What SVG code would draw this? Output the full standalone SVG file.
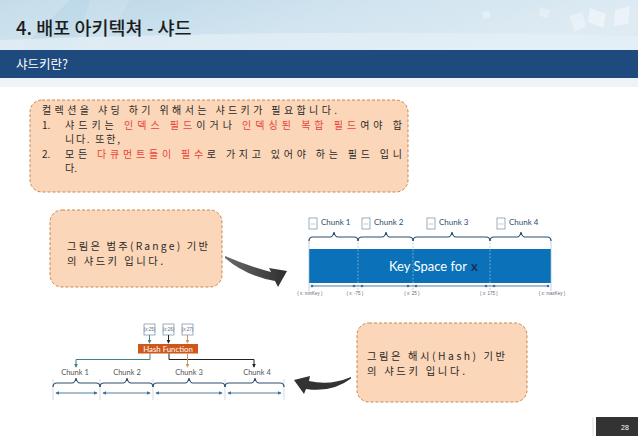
<svg xmlns="http://www.w3.org/2000/svg" width="638" height="442" viewBox="0 0 638 442">
<defs>
<linearGradient id="hdr" x1="0" y1="0" x2="1" y2="0.3">
<stop offset="0" stop-color="#b8d5e6"/>
<stop offset="0.5" stop-color="#cfe3ef"/>
<stop offset="1" stop-color="#deebf3"/>
</linearGradient>
<linearGradient id="arw" x1="0" y1="0" x2="1" y2="0">
<stop offset="0" stop-color="#6a6a6a"/>
<stop offset="1" stop-color="#2e2e2e"/>
</linearGradient>
<marker id="ah" viewBox="0 0 6 6" refX="5" refY="3" markerWidth="4" markerHeight="4" orient="auto-start-reverse">
<path d="M0,0 L6,3 L0,6 Z" fill="#3d6f96"/>
</marker>
<marker id="ahT" viewBox="0 0 6 6" refX="5" refY="3" markerWidth="4" markerHeight="4" orient="auto">
<path d="M0,0 L6,3 L0,6 Z" fill="#3f8285"/>
</marker>
<marker id="ahK" viewBox="0 0 6 6" refX="5" refY="3" markerWidth="4" markerHeight="4" orient="auto">
<path d="M0,0 L6,3 L0,6 Z" fill="#222"/>
</marker>
<marker id="ahN" viewBox="0 0 6 6" refX="5" refY="3" markerWidth="4" markerHeight="4" orient="auto">
<path d="M0,0 L6,3 L0,6 Z" fill="#c39a5f"/>
</marker>
</defs>
<style>
.kr{font-family:"Noto Sans CJK KR","Noto Sans",sans-serif;}
.body{font-size:10.3px;fill:#2a2a2a;}
.b1{font-size:10px;}
.red{fill:#e8443a;}
.note{fill:#fbd6b8;stroke:#c9874f;stroke-width:1;stroke-dasharray:3,2;}
.lat{font-family:Lato,"Liberation Sans",sans-serif;}
.brace{fill:none;stroke:#2c4f6e;stroke-width:1.2;}
.tiny{font-family:"Liberation Sans",sans-serif;font-size:4.5px;fill:#667;}
.icon{fill:#fff;stroke:#6b8fa8;stroke-width:0.7;}
.chunkR{font-size:8px;fill:#2c4f6e;}
.chunkH{font-size:7.5px;fill:#555;}
</style>
<rect width="638" height="442" fill="#ffffff"/>
<g id="header">
<rect x="0" y="0" width="638" height="50" fill="url(#hdr)"/>
<path d="M0,0 L70,0 L20,50 L0,50 Z" fill="#ffffff" opacity="0.18"/>
<path d="M90,0 L130,0 L100,50 L75,50 Z" fill="#ffffff" opacity="0.12"/>
<path d="M0,40 Q300,28 638,36 L638,50 L0,50 Z" fill="#e6f0f6" opacity="0.7"/>
<path d="M590,8 L606,14 L603,28 L588,22 Z" fill="#ffffff" opacity="0.45"/>
<path d="M615,10 L630,6 L628,24 L614,26 Z" fill="#ffffff" opacity="0.4"/>
<path d="M570,16 L582,12 L586,26 L574,32 Z" fill="#ffffff" opacity="0.35"/>
<path d="M540,8 L550,10 L548,18 L539,16 Z" fill="#ffffff" opacity="0.3"/>
<path d="M482,12 L490,11 L490,18 L483,19 Z" fill="#ffffff" opacity="0.3"/>
<text x="16" y="35" class="kr" font-size="18.5" font-weight="500" fill="#1c1c1c">4. 배포 아키텍쳐 - 샤드</text>
<rect x="0" y="50" width="638" height="28" fill="#1f4a7e"/>
<rect x="0" y="78" width="638" height="9" fill="#eef3f8"/>
<text x="16" y="69" class="kr" font-size="12.5" fill="#ffffff">샤드키란?</text>
</g>
<g id="box1">
<rect x="30" y="100" width="378" height="92" rx="12" class="note"/>
<text x="42" y="114" class="kr body b1" textLength="295" lengthAdjust="spacing">컬렉션을 샤딩 하기 위해서는 샤드키가 필요합니다.</text>
<text x="42" y="128.5" class="kr body b1">1.</text>
<text x="65" y="128.5" class="kr body b1" textLength="337" lengthAdjust="spacing">샤드키는 <tspan class="red">인덱스 필드</tspan>이거나 <tspan class="red">인덱싱된 복합 필드</tspan>여야 합</text>
<text x="65" y="143" class="kr body b1" textLength="55" lengthAdjust="spacing">니다. 또한,</text>
<text x="42" y="157.5" class="kr body b1">2.</text>
<text x="65" y="157.5" class="kr body b1" textLength="337" lengthAdjust="spacing">모든 <tspan class="red">다큐먼트들이 필수</tspan>로 가지고 있어야 하는 필드 입니</text>
<text x="65" y="172" class="kr body b1">다.</text>
</g>
<g id="box2">
<rect x="50" y="210" width="172" height="77" rx="12" class="note"/>
<text x="67" y="250" class="kr body" textLength="141" lengthAdjust="spacing">그림은 범주(Range) 기반</text>
<text x="67" y="265" class="kr body" textLength="96" lengthAdjust="spacing">의 샤드키 입니다.</text>
</g>
<g id="box3">
<rect x="357" y="323" width="170" height="79" rx="12" class="note"/>
<text x="367" y="360" class="kr body" textLength="138" lengthAdjust="spacing">그림은 해시(Hash) 기반</text>
<text x="367" y="375" class="kr body" textLength="98" lengthAdjust="spacing">의 샤드키 입니다.</text>
</g>
<g id="range-diagram">
<rect x="309" y="249" width="242" height="34" fill="#0b72b9"/>
<g stroke="#9dbbd3" stroke-width="0.7">
<line x1="309" y1="239" x2="309" y2="291"/>
<line x1="551" y1="239" x2="551" y2="291"/>
<line x1="358" y1="239" x2="358" y2="291" stroke-dasharray="2,1.5"/>
<line x1="413" y1="239" x2="413" y2="291" stroke-dasharray="2,1.5"/>
<line x1="490" y1="239" x2="490" y2="291" stroke-dasharray="2,1.5"/>
</g>
<text x="389" y="271" class="lat" font-size="13" fill="#ffffff">Key Space for<tspan dx="4" font-weight="bold" fill="#1d2f5c">x</tspan></text>
<path class="brace" d="M309,241 Q309,237 313,237 L330,237 Q333,237 334,232 Q335,237 338,237 L354,237 Q358,237 358,241"/>
<path class="brace" d="M358,241 Q358,237 362,237 L382,237 Q385,237 386,232 Q387,237 390,237 L409,237 Q413,237 413,241"/>
<path class="brace" d="M413,241 Q413,237 417,237 L448,237 Q451,237 452,232 Q453,237 456,237 L486,237 Q490,237 490,241"/>
<path class="brace" d="M490,241 Q490,237 494,237 L517,237 Q520,237 521,232 Q522,237 525,237 L547,237 Q551,237 551,241"/>
<rect x="309" y="218" width="8" height="11" class="icon"/>
<rect x="362" y="218" width="8" height="11" class="icon"/>
<rect x="427" y="218" width="8" height="11" class="icon"/>
<rect x="497" y="218" width="8" height="11" class="icon"/>
<g stroke="#c9a36a" stroke-width="0.6">
<line x1="310.5" y1="224" x2="315.5" y2="224"/>
<line x1="363.5" y1="224" x2="368.5" y2="224"/>
<line x1="428.5" y1="224" x2="433.5" y2="224"/>
<line x1="498.5" y1="224" x2="503.5" y2="224"/>
</g>
<text x="321" y="225" class="lat chunkR">Chunk 1</text>
<text x="374" y="225" class="lat chunkR">Chunk 2</text>
<text x="439" y="225" class="lat chunkR">Chunk 3</text>
<text x="509" y="225" class="lat chunkR">Chunk 4</text>
<line x1="312" y1="286" x2="548" y2="286" stroke="#3d6f96" stroke-width="0.9"/>
<g fill="#3d6f96">
<circle cx="312" cy="286" r="1.3"/><circle cx="354" cy="286" r="1.3"/>
<circle cx="362" cy="286" r="1.3"/><circle cx="408" cy="286" r="1.3"/>
<circle cx="416" cy="286" r="1.3"/><circle cx="486" cy="286" r="1.3"/>
<circle cx="494" cy="286" r="1.3"/><circle cx="548" cy="286" r="1.3"/>
</g>
<g class="tiny" text-anchor="middle">
<text x="310" y="295">{ x: minKey }</text>
<text x="355" y="295">{ x: -75 }</text>
<text x="412" y="295">{ x: 25 }</text>
<text x="489" y="295">{ x: 175 }</text>
<text x="552" y="295">{ x: maxKey }</text>
</g>
</g>
<g id="hash-diagram">
<rect x="144" y="324" width="11" height="11" class="icon" stroke="#5a8fb5"/>
<rect x="163" y="324" width="11" height="11" class="icon" stroke="#5a8fb5"/>
<rect x="182" y="324" width="11" height="11" class="icon" stroke="#5a8fb5"/>
<g class="tiny" font-size="3.6" text-anchor="middle" fill="#3d6f96">
<text x="149.5" y="331">{x:25}</text>
<text x="168.5" y="331">{x:26}</text>
<text x="187.5" y="331">{x:27}</text>
</g>
<line x1="149.5" y1="335" x2="149.5" y2="343" stroke="#3f8285" stroke-width="1" marker-end="url(#ahT)"/>
<line x1="168.5" y1="335" x2="168.5" y2="343" stroke="#222" stroke-width="1" marker-end="url(#ahK)"/>
<line x1="187.5" y1="335" x2="187.5" y2="343" stroke="#c39a5f" stroke-width="1" marker-end="url(#ahN)"/>
<rect x="138" y="344" width="60" height="9.5" fill="#d0571b"/>
<text x="168" y="351.6" class="lat" font-size="7.8" fill="#ffffff" text-anchor="middle">Hash Function</text>
<polyline points="150,353.5 150,359.5 76,359.5 76,367" fill="none" stroke="#3f8285" stroke-width="1" marker-end="url(#ahT)"/>
<polyline points="169,353.5 169,359.5 254,359.5 254,367" fill="none" stroke="#222" stroke-width="1" marker-end="url(#ahK)"/>
<line x1="187.5" y1="353.5" x2="187.5" y2="367" stroke="#c39a5f" stroke-width="1" marker-end="url(#ahN)"/>
<text x="75" y="375" class="lat chunkH" text-anchor="middle">Chunk 1</text>
<text x="127" y="375" class="lat chunkH" text-anchor="middle">Chunk 2</text>
<text x="189" y="375" class="lat chunkH" text-anchor="middle">Chunk 3</text>
<text x="257" y="375" class="lat chunkH" text-anchor="middle">Chunk 4</text>
<g stroke="#b8c4cc" stroke-width="0.6">
<line x1="53" y1="379" x2="53" y2="400"/>
<line x1="100" y1="379" x2="100" y2="400"/>
<line x1="153" y1="379" x2="153" y2="400"/>
<line x1="225" y1="379" x2="225" y2="400"/>
<line x1="284" y1="379" x2="284" y2="400"/>
</g>
<path class="brace" d="M53,387 Q53,383 57,383 L72,383 Q75,383 76,378 Q77,383 80,383 L96,383 Q100,383 100,387"/>
<path class="brace" d="M100,387 Q100,383 104,383 L123,383 Q126,383 127,378 Q128,383 131,383 L149,383 Q153,383 153,387"/>
<path class="brace" d="M153,387 Q153,383 157,383 L185,383 Q188,383 189,378 Q190,383 193,383 L221,383 Q225,383 225,387"/>
<path class="brace" d="M225,387 Q225,383 229,383 L251,383 Q254,383 255,378 Q256,383 259,383 L280,383 Q284,383 284,387"/>
<g stroke="#3d6f96" stroke-width="0.9" marker-start="url(#ah)" marker-end="url(#ah)">
<line x1="56" y1="393" x2="97" y2="393"/>
<line x1="103" y1="393" x2="150" y2="393"/>
<line x1="156" y1="393" x2="222" y2="393"/>
<line x1="228" y1="393" x2="281" y2="393"/>
</g>
</g>
<g id="connectors">
<path d="M225,256 Q248,266 271,272 L269,268 L287,271 L278,287 L275,281 Q246,276 225,258 Z" fill="url(#arw)"/>
<path d="M351,377 Q330,386 309,381 L310,376 L294,380 L304,394 L306,389 Q332,393 351,378.5 Z" fill="#333333"/>
</g>
<g id="page-number">
<line x1="593" y1="417" x2="593" y2="436" stroke="#dddddd" stroke-width="1"/>
<rect x="596" y="417" width="42" height="19" fill="#333333"/>
<text x="625" y="430" font-family="Liberation Sans, sans-serif" font-size="7" fill="#ffffff" text-anchor="middle">28</text>
</g>
</svg>
